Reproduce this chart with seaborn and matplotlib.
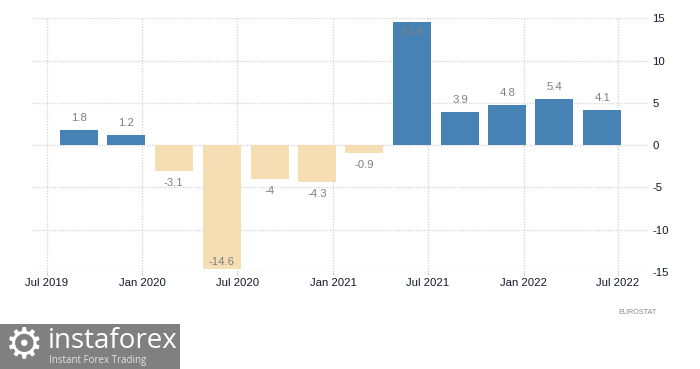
import matplotlib
matplotlib.use("Agg")
import matplotlib.pyplot as plt
import matplotlib.dates as mdates
import matplotlib.patches as mpatches
import pandas as pd
import seaborn as sns
from datetime import date

quarters = ["2019-09-01", "2019-12-01", "2020-03-01", "2020-06-01", "2020-09-01", "2020-12-01",
            "2021-03-01", "2021-06-01", "2021-09-01", "2021-12-01", "2022-03-01", "2022-06-01"]
values = [1.8, 1.2, -3.1, -14.6, -4, -4.3, -0.9, 14.6, 3.9, 4.8, 5.4, 4.1]
value_labels = ["1.8", "1.2", "-3.1", "-14.6", "-4", "-4.3", "-0.9", "14.6", "3.9", "4.8", "5.4", "4.1"]
tick_dates = ["2019-07-01", "2020-01-01", "2020-07-01", "2021-01-01", "2021-07-01", "2022-01-01", "2022-07-01"]
y_ticks = [-15, -10, -5, 0, 5, 10, 15]

W, H = 700, 369
sns.set_theme(style="white")
plt.rcParams["font.family"] = ["Liberation Sans", "DejaVu Sans"]
plt.rcParams["axes.unicode_minus"] = False

fig = plt.figure(figsize=(W / 100, H / 100), dpi=100, facecolor="white")
L, R, T, B = 32, 648, 18.3, 272
ax = fig.add_axes([L / W, 1 - B / H, (R - L) / W, (B - T) / H])

df = pd.DataFrame({
    "x": mdates.date2num(pd.to_datetime(quarters)),
    "y": values,
    "sign": ["pos" if v >= 0 else "neg" for v in values],
})
sns.barplot(data=df, x="x", y="y", hue="sign", native_scale=True, dodge=False,
            palette={"pos": "#4682B4", "neg": "#F5DEB3"}, width=0.81,
            legend=False, ax=ax, saturation=1, linewidth=0, zorder=2)

d0 = mdates.date2num(date(2019, 7, 1))
px_per_day = 0.5214
ax.set_xlim(d0 - (46.5 - L) / px_per_day, d0 + (R - 46.5) / px_per_day)
ax.set_ylim(-15, 15)
ax.set_xlabel("")
ax.set_ylabel("")

ax.set_xticks(mdates.date2num(pd.to_datetime(tick_dates)))
ax.xaxis.set_major_formatter(mdates.DateFormatter("%b %Y"))
ax.set_yticks(y_ticks)
ax.yaxis.tick_right()
ax.tick_params(axis="x", length=2, width=0.8, color="#cccccc", labelsize=8.2, labelcolor="#14182a", pad=2.5, bottom=True)
ax.tick_params(axis="y", length=0, labelsize=8.2, labelcolor="#14182a", pad=3)
for lab in ax.get_yticklabels():
    lab.set_ha("left")

ax.set_axisbelow(True)
ax.grid(True, color="#d8d8d8", linestyle=(0, (1, 1)), linewidth=1)
for s in ax.spines.values():
    s.set_visible(False)

for xv, v, lab in zip(df["x"], values, value_labels):
    if abs(v) > 14:
        off = -10 if v > 0 else 7
    else:
        off = 12 if v > 0 else -12
    ax.annotate(lab, (xv, v), xytext=(0, off * 0.72), textcoords="offset points",
                ha="center", va="center", fontsize=8.2, color="#7f7f86", zorder=5)

fig.text(618 / W, 1 - 312 / H, "EUROSTAT", fontsize=5.2, color="#8a8a8a", ha="left", va="center")

fig.patches.append(mpatches.Rectangle((0, 0), 180 / W, 45 / H, transform=fig.transFigure,
                                      facecolor="#808080", edgecolor="none"))
fig.text(24.5 / W, 1 - 345 / H, "\u2699", fontsize=31, color="white", ha="center", va="center",
         family=["DejaVu Sans"])
fig.text(48 / W, 1 - 341 / H, "instaforex", fontsize=20, color="white", ha="left", va="center",
         family=["Open Sans", "Lato"])
fig.text(49 / W, 1 - 361 / H, "Instant Forex Trading", fontsize=7.0, color="#e4e4e4", ha="left", va="center",
         family=["Open Sans", "Lato"])

fig.savefig("out.png", dpi=100, facecolor="white")
